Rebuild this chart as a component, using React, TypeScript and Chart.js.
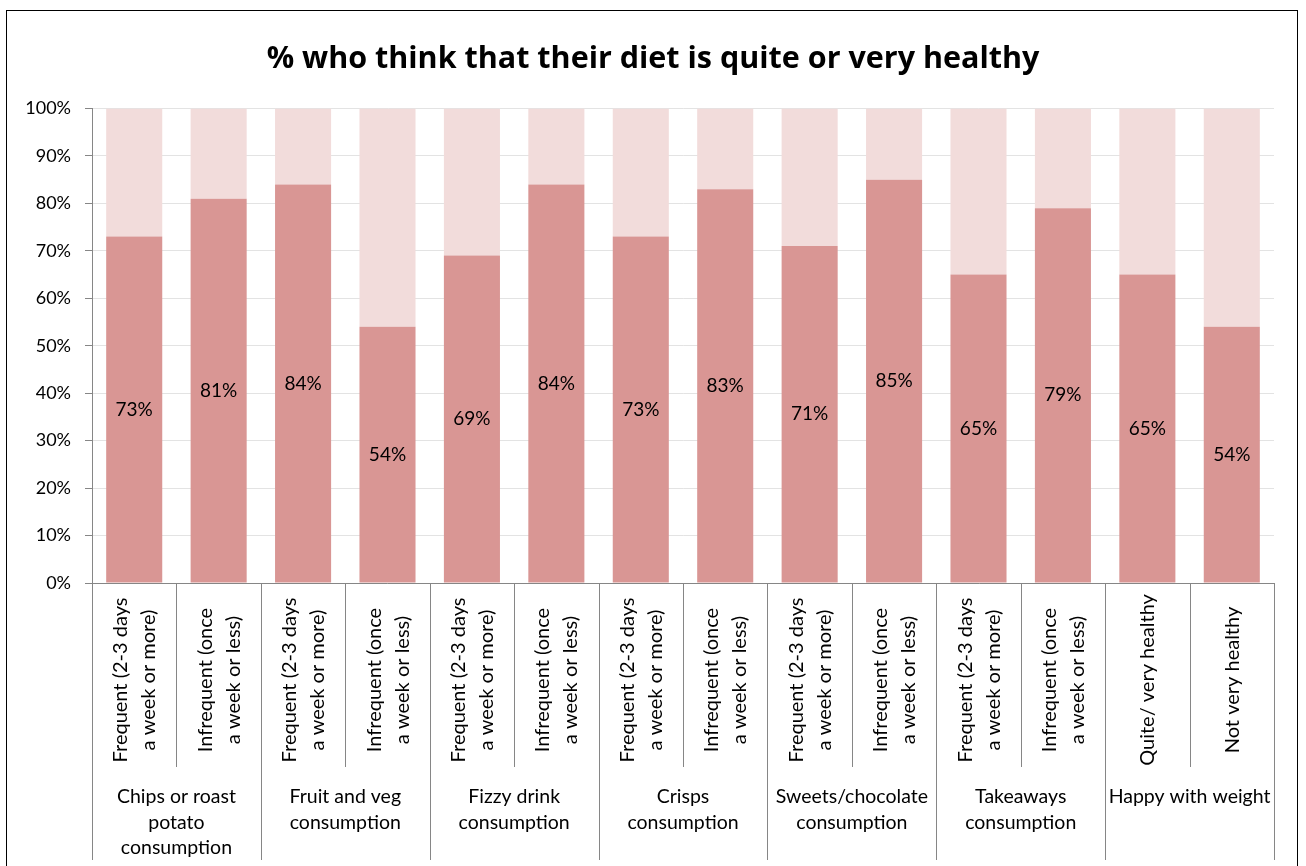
import React, { useEffect, useRef } from 'react';
import { Chart, registerables } from 'chart.js';

Chart.register(...registerables);

const titleText = '% who think that their diet is quite or very healthy';

const subLabels: string[][] = [
  ['Frequent (2-3 days', 'a week or more)'],
  ['Infrequent (once', 'a week or less)'],
  ['Frequent (2-3 days', 'a week or more)'],
  ['Infrequent (once', 'a week or less)'],
  ['Frequent (2-3 days', 'a week or more)'],
  ['Infrequent (once', 'a week or less)'],
  ['Frequent (2-3 days', 'a week or more)'],
  ['Infrequent (once', 'a week or less)'],
  ['Frequent (2-3 days', 'a week or more)'],
  ['Infrequent (once', 'a week or less)'],
  ['Frequent (2-3 days', 'a week or more)'],
  ['Infrequent (once', 'a week or less)'],
  ['Quite/ very healthy'],
  ['Not very healthy'],
];

const groupLabels: string[][] = [
  ['Chips or roast', 'potato', 'consumption'],
  ['Fruit and veg', 'consumption'],
  ['Fizzy drink', 'consumption'],
  ['Crisps', 'consumption'],
  ['Sweets/chocolate', 'consumption'],
  ['Takeaways', 'consumption'],
  ['Happy with weight'],
];

const groupSizes = [2, 2, 2, 2, 2, 2, 2];

const healthyValues = [73, 81, 84, 54, 69, 84, 73, 83, 71, 85, 65, 79, 65, 54];
const remainderValues = [27, 19, 16, 46, 31, 16, 27, 17, 29, 15, 35, 21, 35, 46];

const yTickValues = [0, 10, 20, 30, 40, 50, 60, 70, 80, 90, 100];

const FONT = 'Lato, "Open Sans", sans-serif';
const TITLE_FONT = '"Open Sans", Lato, sans-serif';
const DARK = '#D99694';
const LIGHT = '#F2DCDB';
const AXIS = '#868686';

const labelsPlugin = {
  id: 'customLabels',
  afterDatasetsDraw(chart: any) {
    const ctx = chart.ctx;
    const meta = chart.getDatasetMeta(0);
    ctx.save();
    ctx.fillStyle = '#000';
    ctx.font = `19px ${FONT}`;
    ctx.textAlign = 'center';
    ctx.textBaseline = 'middle';
    meta.data.forEach((bar: any, i: number) => {
      const y = (bar.y + bar.base) / 2;
      ctx.fillText(healthyValues[i] + '%', bar.x, y);
    });
    ctx.restore();
  },
  afterDraw(chart: any) {
    const ctx = chart.ctx;
    const xs = chart.scales.x;
    const area = chart.chartArea;
    const n = subLabels.length;
    const w = (area.right - area.left) / n;
    const bottom = area.bottom;
    ctx.save();
    ctx.strokeStyle = AXIS;
    ctx.lineWidth = 1;
    const groupEnds = new Set<number>();
    let acc = 0;
    groupEnds.add(0);
    groupSizes.forEach((s) => {
      acc += s;
      groupEnds.add(acc);
    });
    for (let i = 0; i <= n; i++) {
      const x = Math.round(area.left + i * w) + 0.5;
      const len = groupEnds.has(i) ? 277 : 184;
      ctx.beginPath();
      ctx.moveTo(x, bottom);
      ctx.lineTo(x, bottom + len);
      ctx.stroke();
    }
    ctx.fillStyle = '#000';
    ctx.font = `20px ${FONT}`;
    ctx.textAlign = 'center';
    ctx.textBaseline = 'alphabetic';
    subLabels.forEach((lines, i) => {
      const cx = xs.getPixelForValue(i);
      const cy = bottom + 97;
      lines.forEach((line, j) => {
        const off = (j - (lines.length - 1) / 2) * 28 + 7;
        ctx.save();
        ctx.translate(cx + off, cy);
        ctx.rotate(-Math.PI / 2);
        ctx.fillText(line, 0, 0);
        ctx.restore();
      });
    });
    ctx.font = `19.5px ${FONT}`;
    let start = 0;
    groupLabels.forEach((lines, g) => {
      const size = groupSizes[g];
      const left = area.left + start * w;
      const right = area.left + (start + size) * w;
      const cx = (left + right) / 2;
      lines.forEach((line, j) => {
        ctx.fillText(line, cx, bottom + 220 + j * 25.5);
      });
      start += size;
    });
    ctx.restore();
  },
};

function ChartView() {
  const ref = useRef<HTMLCanvasElement | null>(null);
  useEffect(() => {
    if (!ref.current) return;
    const chart = new Chart(ref.current, {
      type: 'bar',
      data: {
        labels: subLabels.map((l) => l.join(' ')),
        datasets: [
          {
            label: 'Quite or very healthy',
            data: healthyValues,
            backgroundColor: DARK,
            categoryPercentage: 1,
            barPercentage: 0.664,
          },
          {
            label: 'Other',
            data: remainderValues,
            backgroundColor: LIGHT,
            categoryPercentage: 1,
            barPercentage: 0.664,
          },
        ],
      },
      options: {
        animation: false,
        responsive: false,
        maintainAspectRatio: false,
        layout: { padding: { left: 0, right: 0, top: 0, bottom: 0 } },
        plugins: {
          legend: { display: false },
          tooltip: { enabled: false },
          title: {
            display: true,
            text: titleText,
            color: '#000',
            font: { family: TITLE_FONT, size: 30.5, weight: 'bold', lineHeight: 1.2 },
            padding: { top: 41, bottom: 30.9 },
          },
        },
        scales: {
          x: {
            stacked: true,
            grid: { display: false },
            border: { color: AXIS, width: 1 },
            ticks: { display: false },
            afterFit: (scale: any) => {
              scale.height = 283;
            },
          },
          y: {
            stacked: true,
            min: 0,
            max: 100,
            z: 1,
            afterBuildTicks: (scale: any) => {
              scale.ticks = yTickValues.map((v) => ({ value: v }));
            },
            ticks: {
              color: '#000',
              font: { family: FONT, size: 18 },
              padding: 14,
              callback: (v: any) => v + '%',
            },
            grid: {
              color: 'rgba(217,217,217,0.75)',
              tickColor: AXIS,
              tickLength: 7,
            },
            border: { color: AXIS, width: 1 },
            afterFit: (scale: any) => {
              scale.width = 92;
            },
          },
          yRight: {
            position: 'right',
            min: 0,
            max: 100,
            grid: { display: false, drawTicks: false },
            border: { display: false },
            ticks: { display: false },
            afterFit: (scale: any) => {
              scale.width = 32;
            },
          },
        },
      },
      plugins: [labelsPlugin],
    });
    return () => chart.destroy();
  }, []);
  return <canvas ref={ref} width={1306} height={866} style={{ display: 'block' }} />;
}

export default function App() {
  return (
    <div
      style={{
        position: 'absolute',
        left: 0,
        top: 0,
        width: 1306,
        height: 866,
        overflow: 'hidden',
        background: '#fff',
      }}
    >
      <ChartView />
      <div
        style={{
          position: 'absolute',
          left: 6,
          top: 10,
          width: 1290,
          height: 900,
          border: '1.5px solid #000',
          pointerEvents: 'none',
        }}
      />
    </div>
  );
}
